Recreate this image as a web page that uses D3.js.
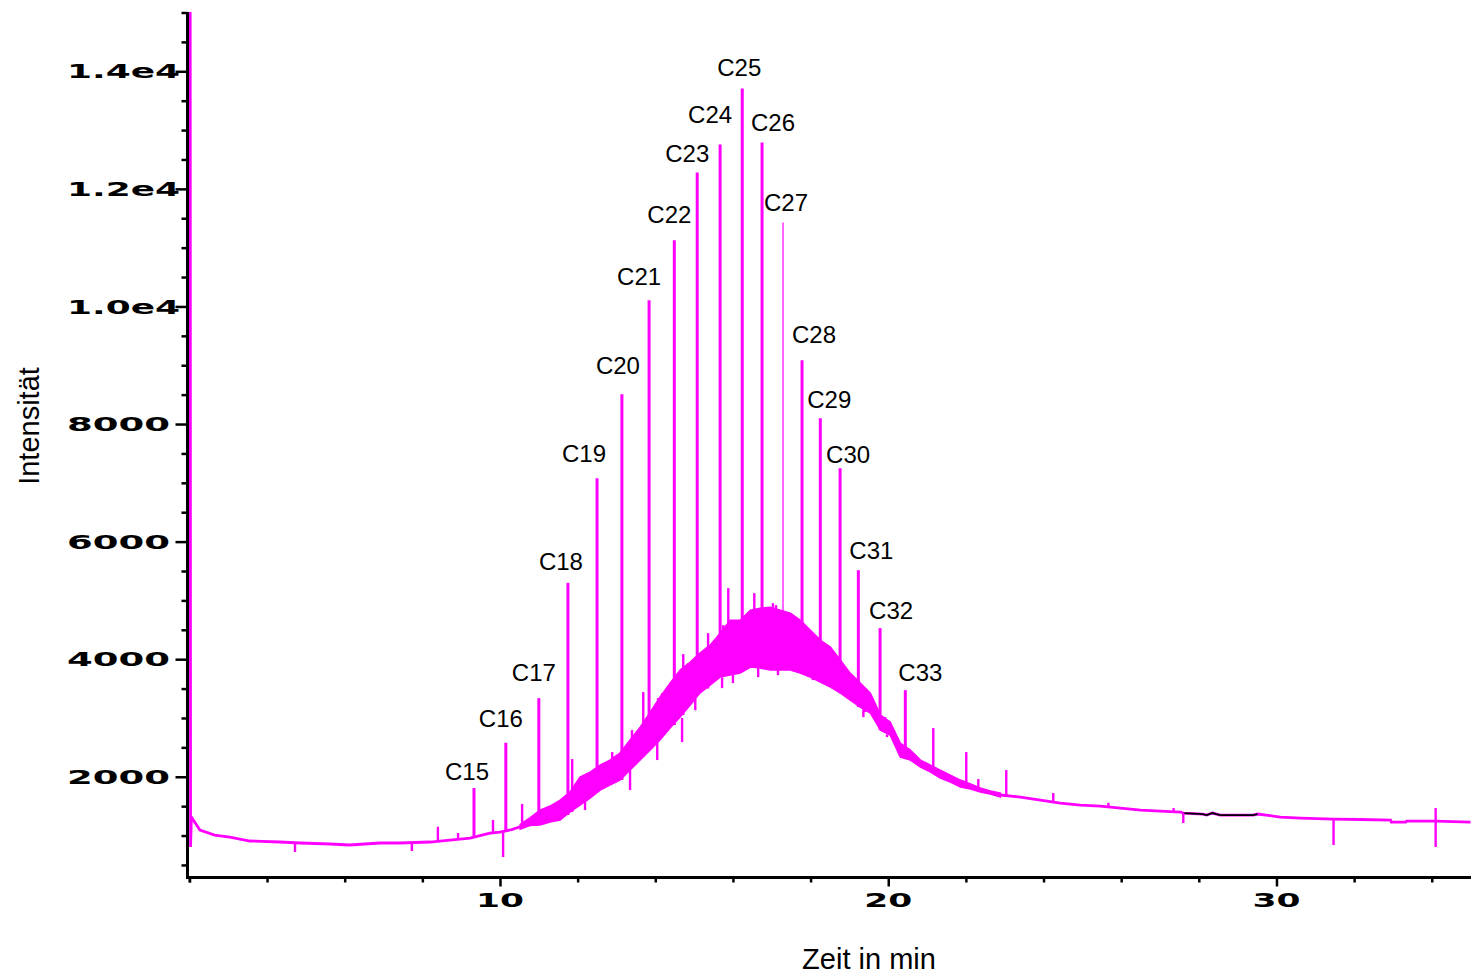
<!DOCTYPE html>
<html>
<head>
<meta charset="utf-8">
<script src="https://cdn.jsdelivr.net/npm/d3@7"></script>
<style>
  body { margin: 0; background: #fff; }
  .tick-label { font-family: "DejaVu Sans", sans-serif; font-weight: bold; font-size: 20px; }
  .title { font-family: "Liberation Sans", Arial, sans-serif; font-size: 29px; }
  .peak-label { font-family: "Liberation Sans", Arial, sans-serif; font-size: 24px; }
</style>
</head>
<body>
<div id="chart"></div>
<script>
// n-alkane peaks: name, retention time (min), apex and foot intensity
const peakNames   = ['C15','C16','C17','C18','C19','C20','C21','C22','C23','C24','C25','C26','C27','C28','C29','C30','C31','C32','C33'];
const peakTimes   = [9.33, 10.15, 11.0, 11.75, 12.5, 13.14, 13.84, 14.49, 15.08, 15.67, 16.24, 16.75, 17.29, 17.78, 18.25, 18.76, 19.23, 19.79, 20.44];
const peakHeights = [1808, 2578, 3338, 5298, 7078, 8506, 10104, 11124, 12280, 12756, 13708, 12790, 11430, 9084, 8098, 7248, 5514, 4528, 3474];
const peakBases   = [958, 1060, 1179, 1349, 1774, 1944, 2454, 2879, 3389, 3695, 3814, 3848, 3814, 3763, 3610, 3423, 3185, 2794, 2335];

// baseline before the hump [time, intensity]
const traceLeft = [
  [2.02, 15500], [2.03, 805], [2.05, 1315], [2.27, 1094], [2.65, 1009], [3.04, 975],
  [3.56, 907], [4.33, 890], [4.85, 873], [5.62, 856], [6.13, 839], [6.91, 873],
  [7.42, 873], [8.20, 890], [8.71, 924], [9.23, 958], [9.74, 1043], [10.00, 1060],
  [10.30, 1100], [10.52, 1150]
];

// unresolved hump, noise band [time, low, high]
const humpBand = [
  [10.52, 1110, 1190], [10.77, 1170, 1300], [11.03, 1179, 1434], [11.29, 1230, 1502],
  [11.55, 1264, 1604], [11.80, 1400, 1740], [12.06, 1519, 1995], [12.32, 1638, 2080],
  [12.58, 1774, 2199], [12.83, 1859, 2284], [13.09, 1944, 2403], [13.35, 2114, 2624],
  [13.61, 2284, 2845], [13.87, 2454, 3100], [14.12, 2624, 3355], [14.38, 2828, 3593],
  [14.64, 3015, 3814], [14.90, 3219, 3950], [15.15, 3423, 4103], [15.41, 3559, 4239],
  [15.67, 3695, 4443], [15.93, 3729, 4664], [16.19, 3763, 4664], [16.45, 3865, 4834],
  [16.70, 3848, 4868], [16.96, 3814, 4885], [17.22, 3814, 4834], [17.48, 3814, 4783],
  [17.73, 3763, 4664], [17.99, 3695, 4494], [18.25, 3610, 4324], [18.51, 3525, 4205],
  [18.77, 3423, 3984], [19.02, 3304, 3763], [19.28, 3185, 3593], [19.54, 3083, 3423],
  [19.80, 2794, 3049], [20.05, 2709, 2930], [20.31, 2335, 2573], [20.57, 2284, 2454],
  [20.83, 2165, 2284], [21.09, 2080, 2199], [21.34, 1978, 2114], [21.60, 1910, 2029],
  [21.86, 1825, 1944], [22.12, 1791, 1876], [22.37, 1740, 1808], [22.63, 1706, 1757],
  [22.89, 1655, 1723]
];

// tail after the hump [time, intensity]
const traceRight = [
  [22.89, 1690], [23.40, 1655], [23.92, 1604], [24.43, 1553], [24.95, 1519], [25.46, 1502],
  [25.98, 1468], [26.50, 1434], [27.01, 1417], [27.53, 1400], [27.60, 1383], [28.10, 1366],
  [28.20, 1349], [28.35, 1383], [28.55, 1349], [29.40, 1349], [29.51, 1366], [30.10, 1315],
  [30.62, 1298], [31.47, 1281], [32.17, 1273], [32.94, 1264], [32.96, 1230], [33.33, 1230],
  [33.35, 1247], [34.10, 1247], [35.0, 1230]
];

// small unlabelled spikes and dips [time, foot, tip]
const spikes = [
  [4.72, 860, 720], [7.73, 873, 737], [8.40, 890, 1150], [8.92, 924, 1043],
  [9.82, 1043, 1264], [10.08, 1060, 635], [10.57, 1160, 1536], [11.86, 1400, 2301],
  [12.19, 1600, 1434], [12.89, 2250, 2420], [13.35, 2114, 1774], [13.40, 2600, 2794],
  [13.69, 2400, 3440], [14.05, 2600, 2284], [14.07, 3300, 3338], [14.18, 3350, 3423],
  [14.69, 3000, 2590], [14.72, 3050, 4086], [14.85, 3900, 3933], [15.03, 3350, 3134],
  [15.36, 3500, 4443], [15.47, 4200, 4273], [15.72, 3690, 3508], [15.75, 4450, 4579],
  [15.88, 3720, 5208], [16.00, 3740, 3593], [16.11, 4600, 4613], [16.30, 4700, 4715],
  [16.55, 3850, 5123], [16.65, 3850, 3695], [16.78, 4800, 4783], [17.03, 4850, 4953],
  [17.11, 3814, 4919], [17.16, 3814, 3729], [17.42, 4780, 4715], [17.68, 4600, 4664],
  [17.94, 3700, 4460], [18.06, 3680, 3644], [18.20, 4300, 4324], [18.46, 4150, 4154],
  [18.89, 3600, 3729], [19.07, 3300, 3729], [19.36, 3150, 3015], [19.40, 3100, 3423],
  [19.92, 2750, 3015], [19.97, 2720, 2675], [21.16, 2080, 2828], [22.01, 1840, 2420],
  [22.32, 1760, 1961], [23.04, 1660, 2114], [24.25, 1570, 1723], [25.67, 1490, 1556],
  [27.35, 1410, 1468], [27.60, 1390, 1213], [31.47, 1281, 839], [34.10, 1247, 1468],
  [34.10, 1247, 805]
];

const yTickValues = [2000, 4000, 6000, 8000, 10000, 12000, 14000];
const yTickLabels = ['2000', '4000', '6000', '8000', '1.0e4', '1.2e4', '1.4e4'];
const xTickValues = [10, 20, 30];
const xTickLabels = ['10', '20', '30'];

// label nudges from the peak apex, in px
const labelOffsets = [
  [-7,-16], [-5,-24], [-5,-26], [-7,-21], [-13,-25], [-4,-29], [-10,-24], [-5,-26], [-10,-19], [-10,-30],
  [-3,-21], [11,-20], [3,-20], [12,-26], [9,-19], [8,-14], [13,-20], [11,-18], [15,-18]
];

const width = 1472;
const height = 979;
const magenta = '#ff00ff';

const svg = d3.select('#chart').append('svg')
  .attr('width', width)
  .attr('height', height);

const x = d3.scaleLinear().domain([2, 35]).range([189.4, 1470.6]);
const y = d3.scaleLinear().domain([278, 15000]).range([878, 12.5]);

// axes
const yMinor = d3.range(500, 15001, 500).filter(v => v % 2000 !== 0);
const xMinor = d3.range(2, 35, 2).filter(v => v % 10 !== 0);

const axisY = svg.append('g').attr('transform', 'translate(187.5,0)');
axisY.append('g').call(d3.axisLeft(y).tickValues(yMinor).tickSize(6).tickFormat(''));
axisY.append('g').call(d3.axisLeft(y).tickValues(yTickValues).tickSize(12).tickFormat(''));
axisY.selectAll('.domain').remove();
axisY.selectAll('.tick line').attr('stroke', '#000').attr('stroke-width', 2.5);

const axisX = svg.append('g').attr('transform', 'translate(0,877.5)');
axisX.append('g').call(d3.axisBottom(x).tickValues([2].concat(xMinor)).tickSize(5).tickFormat(''));
axisX.append('g').call(d3.axisBottom(x).tickValues(xTickValues).tickSize(9).tickFormat(''));
axisX.selectAll('.domain').remove();
axisX.selectAll('.tick line').attr('stroke', '#000').attr('stroke-width', 2.5);

svg.append('line')
  .attr('x1', 187.5).attr('x2', 187.5).attr('y1', 12).attr('y2', 879)
  .attr('stroke', '#000').attr('stroke-width', 3);
svg.append('line')
  .attr('x1', 186).attr('x2', 1471).attr('y1', 877.5).attr('y2', 877.5)
  .attr('stroke', '#000').attr('stroke-width', 3);

svg.append('g').selectAll('text')
  .data(yTickValues)
  .enter()
  .append('text')
  .attr('class', 'tick-label')
  .attr('x', 67)
  .attr('y', d => y(d))
  .attr('dy', '0.36em')
  .attr('textLength', (d, i) => yTickLabels[i].includes('e') ? 113 : 103)
  .attr('lengthAdjust', 'spacingAndGlyphs')
  .text((d, i) => yTickLabels[i]);

svg.append('g').selectAll('text')
  .data(xTickValues)
  .enter()
  .append('text')
  .attr('class', 'tick-label')
  .attr('x', d => x(d))
  .attr('y', 907)
  .attr('text-anchor', 'middle')
  .attr('textLength', 48)
  .attr('lengthAdjust', 'spacingAndGlyphs')
  .text((d, i) => xTickLabels[i]);

svg.append('text')
  .attr('class', 'title')
  .attr('x', 869)
  .attr('y', 969)
  .attr('text-anchor', 'middle')
  .text('Zeit in min');

svg.append('text')
  .attr('class', 'title')
  .attr('transform', 'translate(39,426) rotate(-90)')
  .attr('text-anchor', 'middle')
  .text('Intensität');

// chromatogram
svg.append('clipPath').attr('id', 'plot')
  .append('rect').attr('x', 189).attr('y', 12).attr('width', 1283).attr('height', 866);

const plot = svg.append('g').attr('clip-path', 'url(#plot)');

const line = d3.line().x(d => x(d[0])).y(d => y(d[1]));
const band = d3.area().x(d => x(d[0])).y0(d => y(d[1])).y1(d => y(d[2]));

plot.append('path')
  .attr('d', band(humpBand))
  .attr('fill', magenta)
  .attr('stroke', magenta)
  .attr('stroke-width', 1.5);

[traceLeft, traceRight].forEach(tr => {
  plot.append('path')
    .attr('d', line(tr))
    .attr('fill', 'none')
    .attr('stroke', magenta)
    .attr('stroke-width', 2.8);
});

// stretch of the trace printed in black
plot.append('path')
  .attr('d', line(traceRight.filter(d => d[0] >= 27.6 && d[0] <= 29.51)))
  .attr('fill', 'none')
  .attr('stroke', '#000')
  .attr('stroke-width', 1.8);

plot.selectAll('.spike')
  .data(spikes)
  .enter()
  .append('line')
  .attr('class', 'spike')
  .attr('x1', d => x(d[0])).attr('x2', d => x(d[0]))
  .attr('y1', d => y(d[1])).attr('y2', d => y(d[2]))
  .attr('stroke', magenta)
  .attr('stroke-width', 2.4);

plot.selectAll('.peak')
  .data(peakTimes)
  .enter()
  .append('line')
  .attr('class', 'peak')
  .attr('x1', d => x(d)).attr('x2', d => x(d))
  .attr('y1', (d, i) => y(peakBases[i]))
  .attr('y2', (d, i) => y(peakHeights[i]))
  .attr('stroke', magenta)
  .attr('stroke-width', (d, i) => peakNames[i] === 'C27' ? 1.2 : 3);

svg.append('g').selectAll('text')
  .data(peakTimes)
  .enter()
  .append('text')
  .attr('class', 'peak-label')
  .attr('x', (d, i) => x(d) + labelOffsets[i][0])
  .attr('y', (d, i) => y(peakHeights[i]) + labelOffsets[i][1])
  .attr('dy', '0.35em')
  .attr('text-anchor', 'middle')
  .text((d, i) => peakNames[i]);
</script>
</body>
</html>
